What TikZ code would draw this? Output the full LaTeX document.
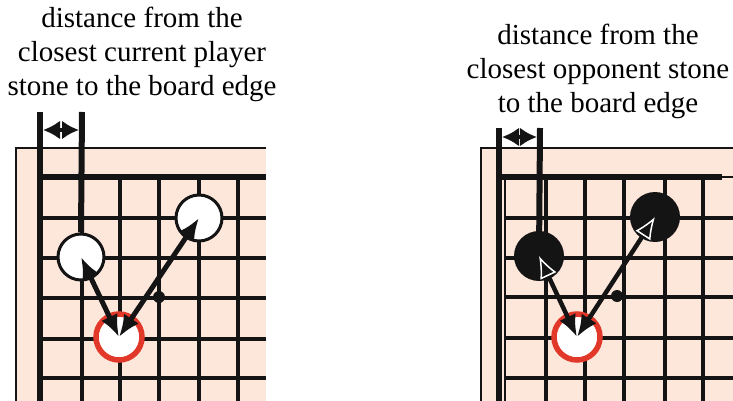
\documentclass[tikz,border=0pt]{standalone}
\usepackage{fontspec}
\setmainfont{Liberation Serif}
\usetikzlibrary{arrows.meta}
\definecolor{board}{HTML}{FDE6DA}
\definecolor{ringred}{HTML}{E2382A}
\definecolor{ink}{HTML}{141414}
\tikzset{
  title/.style={align=center, font=\fontsize{29}{34}\selectfont, inner sep=0pt},
  gridline/.style={draw=ink, line width=3.8pt},
  thickline/.style={draw=ink, line width=6pt},
  edgeline/.style={draw=ink, line width=2.5pt},
  wstone/.style={circle, draw=ink, fill=white, line width=3pt, minimum size=46pt, inner sep=0pt},
  bstone/.style={circle, fill=ink, minimum size=50pt, inner sep=0pt},
  rstone/.style={circle, draw=ringred, fill=white, line width=5.5pt, minimum size=46pt, inner sep=0pt},
  dotmark/.style={circle, fill=ink, minimum size=12pt, inner sep=0pt},
  dtip/.tip={Latex[length=22pt,width=18pt]},
  otip/.tip={Latex[length=22pt,width=18pt,color=white,fill=ink,line width=1.5pt]},
  gtip/.tip={Latex[length=17pt,width=19pt]},
  distarrow/.style={draw=ink, line width=5pt, dtip-dtip},
  oppharrow/.style={draw=ink, line width=4.5pt, dtip-otip},
  gaparrow/.style={draw=ink, line width=4.5pt, gtip-gtip},
}
\begin{document}
\begin{tikzpicture}[x=1pt,y=-1pt]
\useasboundingbox (0,0) rectangle (733,401);

% ---------- titles ----------
\node[title] (tl) at (142,54) {distance from the\\closest current player\\stone to the board edge};
\node[title] (tr) at (598,71) {distance from the\\closest opponent stone\\to the board edge};

% ---------- left board ----------
\fill[board] (16,148) rectangle (266,401);
\draw[edgeline] (266,148) -| (16,401);
\foreach \x in {82,120,159,199,238} \draw[gridline] (\x,177) -- (\x,401);
\foreach \y in {218,258,298,339,378} \draw[gridline] (40,\y) -- (266,\y);
\coordinate (lA) at (40,112);
\coordinate (lB) at (40,401);
\draw[thickline] (lA) -- (lB);
\coordinate (lT1) at (40,177);
\coordinate (lT2) at (266,177);
\draw[thickline] (lT1) -- (lT2);
\node[wstone] (L1) at (81,257) {};
\node[wstone] (L2) at (199,218) {};
\node[rstone] (LR) at (119,337) {};
\coordinate (lM) at (82,112);
\draw[thickline] (lM) -- (L1.north);
\coordinate (lg1) at (43,130);
\coordinate (lg2) at (79,130);
\draw[gaparrow] (lg1) -- (lg2);
\node[dotmark] (LD) at (159,297) {};
\draw[distarrow] (L1.center) -- (LR.center);
\draw[distarrow] (L2.center) -- (LR.center);

% ---------- right board ----------
\fill[board] (481,148) rectangle (733,401);
\draw[edgeline] (733,148) -| (481,401);
\foreach \x in {546,585,624,665,703} \draw[gridline] (\x,177) -- (\x,401);
\foreach \y in {218,258,297,338,378} \draw[gridline] (504,\y) -- (733,\y);
\coordinate (rE1) at (505,177);
\coordinate (rE2) at (505,401);
\draw[ink, line width=2pt] (rE1) -- (rE2);
\coordinate (rA) at (499,128);
\coordinate (rB) at (499,401);
\draw[thickline] (rA) -- (rB);
\coordinate (rT1) at (499,177);
\coordinate (rT2) at (722,177);
\coordinate (rT3) at (733,177);
\draw[thickline, line width=5.5pt] (rT1) -- (rT2);
\draw[ink, line width=2.5pt] (rT2) -- (rT3);
\node[bstone] (B1) at (539,256) {};
\node[bstone] (B2) at (655,217) {};
\node[rstone] (RR) at (577,337) {};
\coordinate (rM) at (540,128);
\draw[thickline] (rM) -- (B1.center);
\coordinate (rg1) at (502,137);
\coordinate (rg2) at (537,137);
\draw[gaparrow] (rg1) -- (rg2);
\node[dotmark] (RD) at (617,296) {};
\draw[oppharrow] (RR.center) -- (B1.center);
\draw[oppharrow] (RR.center) -- (B2.center);
\end{tikzpicture}
\end{document}
